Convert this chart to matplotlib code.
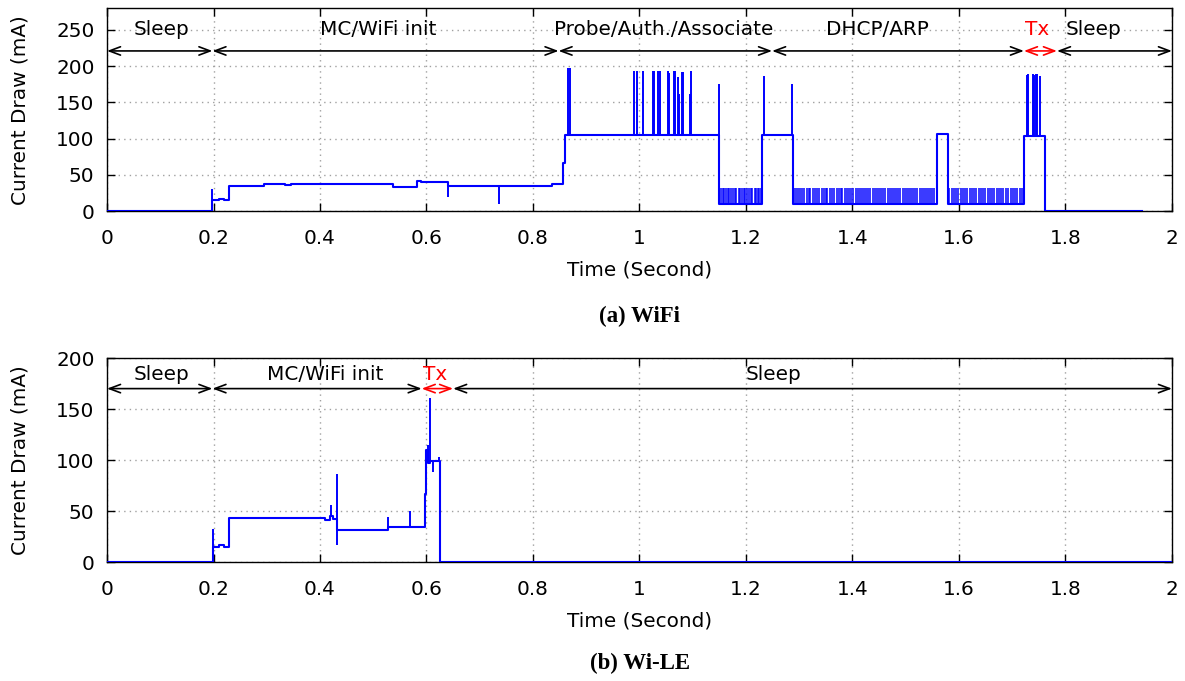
import matplotlib
matplotlib.use('Agg')
import matplotlib.pyplot as plt
import numpy as np
from matplotlib.ticker import FuncFormatter, MultipleLocator

# ---> WiFi trace (step levels, mA)
wifi_t = [0.000, 0.198, 0.210, 0.220, 0.229, 0.295, 0.335, 0.345, 0.537, 0.582, 0.590,
          0.640, 0.835, 0.856, 0.860, 1.150, 1.231, 1.288, 1.559, 1.579, 1.722, 1.762, 1.943]
wifi_mA = [0.5, 15, 17, 15, 35, 38, 36, 37, 33, 42, 40,
           35, 37, 66, 105, 10, 105, 10, 107, 10, 103, 0.5, 0.5]

# spikes on top of the levels
wifi_spike_t = [0.198, 0.640, 0.737, 0.866, 0.869, 0.990, 0.996, 1.006, 1.025, 1.027,
                1.034, 1.039, 1.053, 1.055, 1.065, 1.067, 1.072, 1.075, 1.079, 1.082,
                1.095, 1.097, 1.149, 1.233, 1.287, 1.727, 1.730, 1.739, 1.741, 1.744,
                1.746, 1.752]
wifi_spike_mA = [30, 20, 10, 197, 197, 193, 194, 194, 193, 193,
                 194, 193, 193, 191, 193, 193, 185, 161, 192, 192,
                 161, 194, 176, 187, 176, 188, 189, 189, 188, 189,
                 189, 186]

# idle pulses (10 -> 32 mA), times in ms
wifi_pulse_ms = [1153, 1156, 1159, 1162, 1166, 1169, 1172, 1176, 1179, 1182, 1186, 1189,
                 1192, 1196, 1199, 1202, 1206, 1209, 1212, 1216, 1219, 1222, 1225, 1228,
                 1290, 1294, 1297, 1302, 1306, 1309, 1314, 1318, 1321, 1326, 1330, 1333,
                 1338, 1342, 1346, 1350, 1353, 1358, 1362, 1366, 1370, 1374, 1378, 1381,
                 1386, 1390, 1394, 1398, 1401, 1406, 1410, 1414, 1418, 1422, 1426, 1430,
                 1433, 1438, 1442, 1446, 1450, 1453, 1458, 1462, 1466, 1470, 1474, 1478,
                 1482, 1486, 1490, 1494, 1498, 1502, 1506, 1510, 1514, 1518, 1522, 1526,
                 1530, 1534, 1538, 1542, 1546, 1550, 1554,
                 1582, 1586, 1590, 1594, 1598, 1603, 1607, 1611, 1615, 1620, 1624, 1628,
                 1632, 1637, 1641, 1645, 1649, 1654, 1658, 1662, 1666, 1671, 1675, 1679,
                 1683, 1688, 1692, 1697, 1701, 1705, 1709, 1714, 1718]
wifi_pulse_lo = 10
wifi_pulse_hi = 32

# ---> Wi-LE trace
wile_t = [0.000, 0.1985, 0.210, 0.220, 0.229, 0.409, 0.419, 0.425, 0.431, 0.528,
          0.597, 0.600, 0.603, 0.607, 0.6253, 2.000]
wile_mA = [0.3, 15, 17, 15, 43, 41, 45, 42, 31, 34,
           67, 110, 97, 99, 0.3, 0.3]
wile_spike_t = [0.1985, 0.4207, 0.4313, 0.4313, 0.528, 0.569, 0.6035, 0.606, 0.6116, 0.624]
wile_spike_mA = [32, 56, 86, 17, 44, 50, 115, 161, 88, 103]

# ---> phases
wifi_edges = [0.0, 0.198, 0.848, 1.249, 1.722, 1.784, 2.0]
wifi_names = ['Sleep', 'MC/WiFi init', 'Probe/Auth./Associate', 'DHCP/ARP', 'Tx', 'Sleep']
wifi_label_x = [0.102, 0.509, 1.045, 1.446, 1.747, 1.852]
wile_edges = [0.0, 0.198, 0.591, 0.650, 2.0]
wile_names = ['Sleep', 'MC/WiFi init', 'Tx', 'Sleep']
wile_label_x = [0.102, 0.410, 0.617, 1.251]

BLUE = '#0000ff'
FS = 14.4


def base_level(t, levels, x):
    i = np.searchsorted(t, x, side='right') - 1
    return np.asarray(levels)[i]


def draw_trace(ax, t, mA, spike_t, spike_mA, pulse_t=None):
    ax.plot(t, mA, drawstyle='steps-post', color=BLUE, lw=1.5, zorder=3)
    base = base_level(t, mA, spike_t)
    ax.vlines(spike_t, np.minimum(base, spike_mA), np.maximum(base, spike_mA),
              color=BLUE, lw=1.4, zorder=3)
    if pulse_t is not None:
        ax.vlines(pulse_t, wifi_pulse_lo, wifi_pulse_hi, color=BLUE, lw=1.1, zorder=3)


def draw_phases(ax, edges, names, label_x, y_arrow, y_text):
    for i, name in enumerate(names):
        c = 'red' if name == 'Tx' else 'black'
        ax.annotate('', xy=(edges[i + 1], y_arrow), xytext=(edges[i], y_arrow),
                    arrowprops=dict(arrowstyle='<->,head_length=0.8,head_width=0.3',
                                    color=c, lw=1.2, shrinkA=0, shrinkB=0,
                                    mutation_scale=10),
                    zorder=4, annotation_clip=False)
        ax.text(label_x[i], y_text, name, ha='center', va='center',
                fontsize=FS, color=c, zorder=4)


def style_axes(ax, ymax, ystep):
    ax.set_xlim(0, 2)
    ax.set_ylim(0, ymax)
    ax.xaxis.set_major_locator(MultipleLocator(0.2))
    ax.yaxis.set_major_locator(MultipleLocator(ystep))
    ax.xaxis.set_major_formatter(FuncFormatter(lambda v, p: '{:g}'.format(round(v, 2))))
    ax.tick_params(direction='in', top=True, right=True, length=6, width=1,
                   labelsize=FS)
    ax.tick_params(axis='x', pad=13)
    ax.tick_params(axis='y', pad=9)
    ax.grid(True, color='#a0a0a0', ls=(0, (1, 3)), lw=1)
    ax.set_axisbelow(True)
    for s in ax.spines.values():
        s.set_linewidth(1)
    ax.set_xlabel('Time (Second)', fontsize=FS, labelpad=9)
    ax.set_ylabel('Current Draw (mA)', fontsize=FS)
    ax.yaxis.set_label_coords(-0.073, 0.5)


fig = plt.figure(figsize=(11.85, 6.81), dpi=100)
ax1 = fig.add_axes([0.0903, 0.690, 0.8987, 0.298])
ax2 = fig.add_axes([0.0903, 0.1747, 0.8987, 0.2996])

draw_trace(ax1, wifi_t, wifi_mA, wifi_spike_t, wifi_spike_mA,
           np.array(wifi_pulse_ms) / 1000.0)
style_axes(ax1, 280, 50)
draw_phases(ax1, wifi_edges, wifi_names, wifi_label_x, 221, 250)

draw_trace(ax2, wile_t, wile_mA, wile_spike_t, wile_spike_mA)
style_axes(ax2, 200, 50)
draw_phases(ax2, wile_edges, wile_names, wile_label_x, 170, 184)

fig.text(0.540, 1 - 316 / 681, '(a) WiFi', ha='center', va='center',
         fontsize=16.5, fontweight='bold', family='Liberation Serif')
fig.text(0.540, 1 - 663 / 681, '(b) Wi-LE', ha='center', va='center',
         fontsize=16.5, fontweight='bold', family='Liberation Serif')

fig.savefig('out.png', dpi=100)
